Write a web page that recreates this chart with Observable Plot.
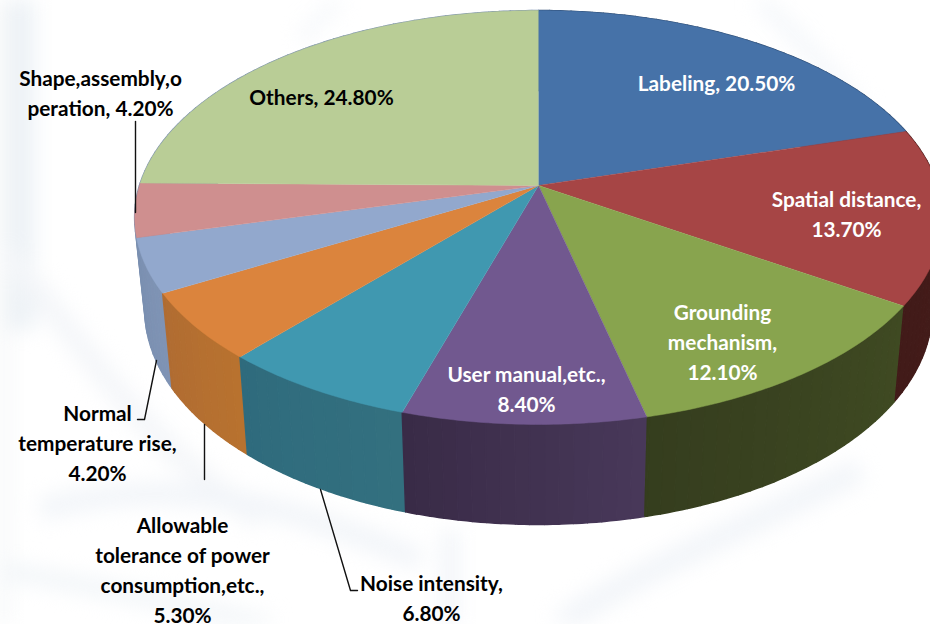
<!DOCTYPE html>
<html>
<head>
<meta charset="utf-8">
<script src="https://cdn.jsdelivr.net/npm/d3@7"></script>
<script src="https://cdn.jsdelivr.net/npm/@observablehq/plot@0.6"></script>
<style>
html,body{margin:0;padding:0;width:930px;height:624px;overflow:hidden;background:#fff}
#wash{position:absolute;left:0;top:0;width:930px;height:624px;filter:blur(10px)}
#wash path{fill:none}
#chart{position:absolute;left:0;top:0}
#chart svg{background:transparent;display:block}
</style>
</head>
<body>
<svg id="wash" viewBox="0 0 930 624">
  <path d="M22 0V330" stroke="#edf2f6" stroke-width="26"/>
  <path d="M4 0V624" stroke="#f0f3f5" stroke-width="8"/>
  <path d="M0 250C60 300 110 420 260 520" stroke="#f4f6f9" stroke-width="22"/>
  <path d="M40 510C180 470 300 510 420 560" stroke="#f2f5f9" stroke-width="22"/>
  <path d="M0 570C120 590 200 610 270 624" stroke="#f1f5f8" stroke-width="16"/>
  <path d="M760 0C790 30 830 70 860 110" stroke="#f3f6fa" stroke-width="14"/>
  <path d="M340 0C330 8 320 20 300 40" stroke="#f3f6fa" stroke-width="10"/>
  <path d="M560 624C640 570 720 540 860 470" stroke="#f2f5f9" stroke-width="24"/>
  <path d="M450 530V624" stroke="#f2f5f9" stroke-width="18"/>
</svg>
<div id="chart"></div>
<script>
// Data
const categories = ["Labeling","Spatial distance","Grounding mechanism","User manual,etc.","Noise intensity","Allowable tolerance of power consumption,etc.","Normal temperature rise","Shape,assembly,operation","Others"];
const shares = [20.5,13.7,12.1,8.4,6.8,5.3,4.2,4.2,24.8];
const labels = ["Labeling, 20.50%","Spatial distance,\n13.70%","Grounding\nmechanism,\n12.10%","User manual,etc.,\n8.40%","Noise intensity,\n6.80%","Allowable\ntolerance of power\nconsumption,etc.,\n5.30%","Normal\ntemperature rise,\n4.20%","Shape,assembly,o\nperation, 4.20%","Others, 24.80%"];

// Styles and layout
const topColors = ["#4672a8","#a64545","#88a44e","#71588f","#4098b0","#db843d","#92a8cd","#cf8f8f","#b9cd96"];
const wallFrom = ["#2c4a70","#451d1b","#3f4a22","#483859","#33707f","#b8722f","#7f93b4","#7a8fb0","#7a8fb0"];
const wallTo   = ["#2c4a70","#421b19","#353d1e","#392b47","#2f6b7d","#b06c32","#7a8fb0","#7a8fb0","#7a8fb0"];
const textColors = ["#fff","#fff","#fff","#fff","#000","#000","#000","#000","#000"];
const labelX = [716,846,722,526,431,182,97,100,321];
const labelY = [81,211.5,339.5,386.5,595.5,568,440.5,91,95];
const leaders = [
  [[135,121],[135,212]],
  [[156,360],[144,419],[137,419]],
  [[204,424],[204,479]],
  [[320,489],[350,590],[357,590]]
];

// Perspective model of the pie
const cx = 538, cy = 185, rx = 399, ry = 202, tilt = 0.1546, shrink = 0.975;
function topPoint(p) {
  const t = p / 100 * 2 * Math.PI, u = Math.sin(t), s = -Math.cos(t), w = 1 - tilt * s;
  return {x: cx + rx * u / w, y: cy + ry * s / w, s};
}
function bottomPoint(p) {
  const a = topPoint(p);
  return {x: cx + shrink * (a.x - cx), y: a.y + 90 + 10 * a.s};
}

const step = 0.2, wallStep = 0.5;
const topRows = [], wallQuads = [];
let start = 0;
shares.forEach((v, i) => {
  const stops = d3.range(start, start + v, step).concat(start + v);
  topRows.push({x: cx, y: cy, id: i, fill: topColors[i]});
  stops.forEach(p => topRows.push({...topPoint(p), id: i, fill: topColors[i]}));
  const edges = d3.range(start, start + v, wallStep).concat(start + v);
  const mix = d3.interpolateRgb(wallFrom[i], wallTo[i]);
  for (let k = 0; k + 1 < edges.length; k++) {
    const a = edges[k], b = edges[k + 1], id = `${i}-${k}`;
    const fill = d3.color(mix(k / Math.max(1, edges.length - 2))).formatHex();
    const span = d3.range(a, b, step).concat(b);
    wallQuads.push({
      depth: topPoint((a + b) / 2).s,
      rows: [...span.map(topPoint), ...span.slice().reverse().map(bottomPoint)].map(q => ({x: q.x, y: q.y, id, fill}))
    });
  }
  start += v;
});
// back-to-front, so a nearer wall covers a farther one
const wallRows = wallQuads.sort((a, b) => a.depth - b.depth).flatMap(q => q.rows);
const leaderRows = leaders.flatMap((l, id) => l.map(([x, y]) => ({x, y, id})));
const labelRows = labels.map((text, i) => ({text, x: labelX[i], y: labelY[i], color: textColors[i], name: categories[i]}));

const chart = Plot.plot({
  width: 930, height: 624,
  margin: 0,
  style: {background: "transparent"},
  x: {domain: [0, 930], range: [0, 930], axis: null},
  y: {domain: [0, 624], range: [0, 624], axis: null},
  color: {type: "identity"},
  marks: [
    Plot.line(wallRows, {x: "x", y: "y", z: "id", fill: "fill", stroke: "fill", strokeWidth: 1.5, strokeLinejoin: "round"}),
    Plot.line(topRows, {x: "x", y: "y", z: "id", fill: "fill", stroke: "fill", strokeWidth: 0.5}),
    Plot.line(leaderRows, {x: "x", y: "y", z: "id", stroke: "#111", strokeWidth: 1.4}),
    Plot.text(labelRows, {x: "x", y: "y", text: "text", fill: "color", fontSize: 20.8, fontWeight: 700, fontFamily: "Lato, 'Open Sans', sans-serif", lineHeight: 1.44, textAnchor: "middle", lineAnchor: "middle"})
  ]
});
document.getElementById("chart").appendChild(chart);
</script>
</body>
</html>
